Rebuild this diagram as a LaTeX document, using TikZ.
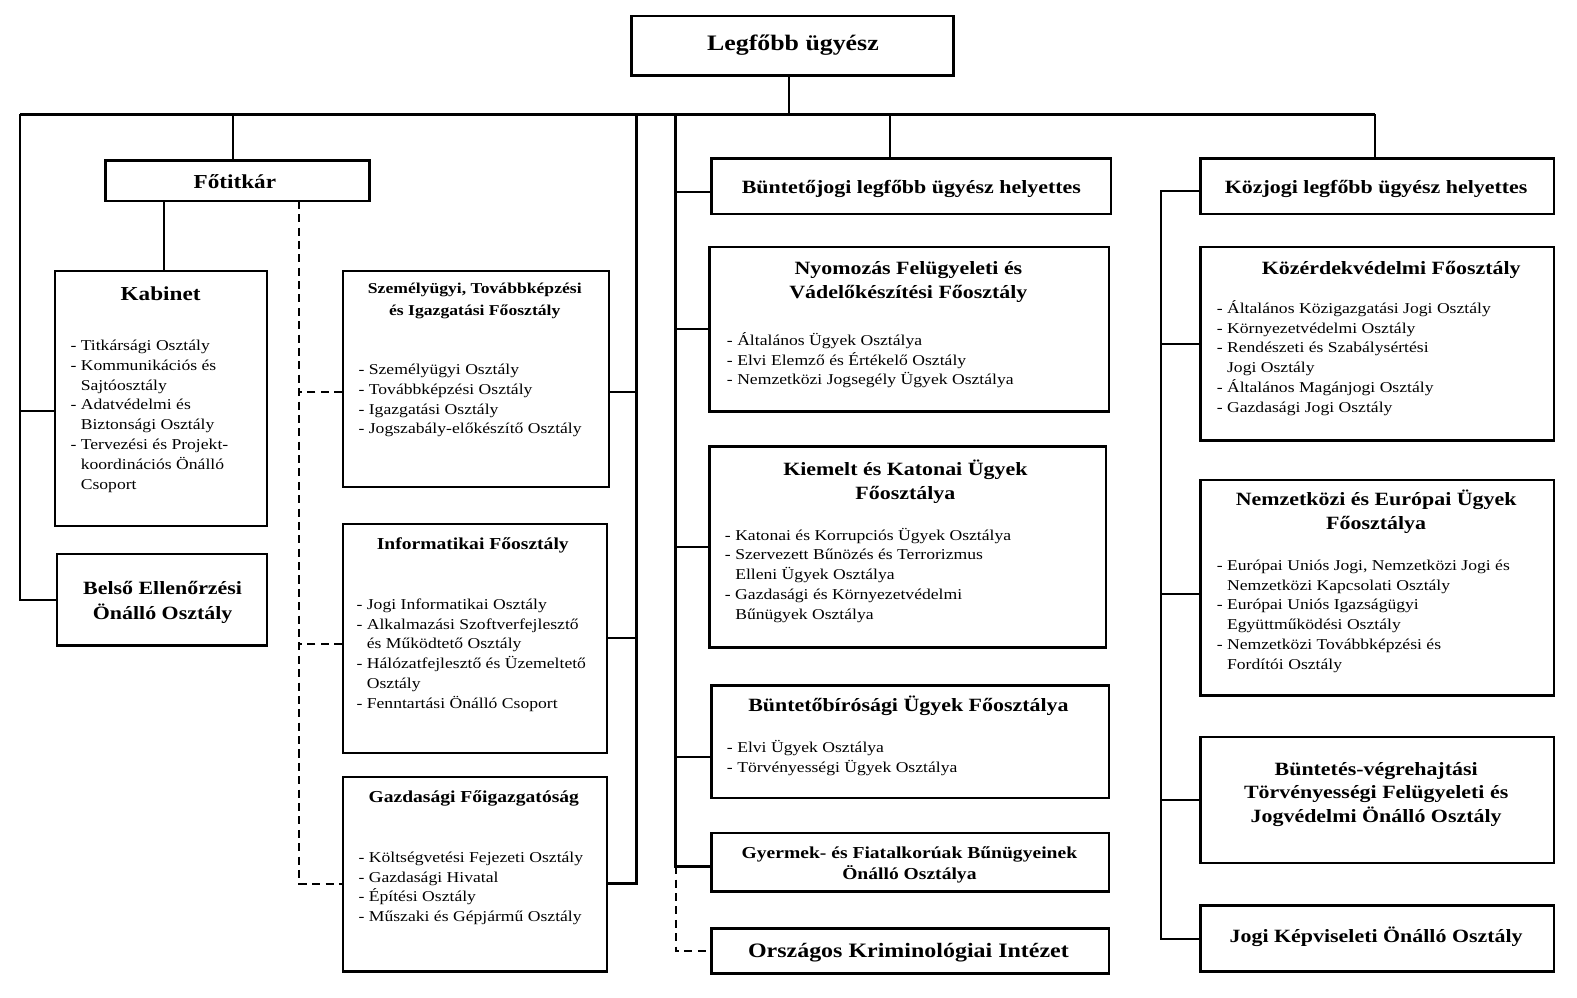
\documentclass[tikz,border=0pt]{standalone}
\usepackage{fontspec}
\setmainfont{Liberation Serif}[FakeStretch=1.17]
\usetikzlibrary{fit}
\begin{document}
\begin{tikzpicture}[x=0.75pt,y=-0.75pt,
  box/.style={draw, line width=1.8pt, inner sep=0pt},
  conn/.style={line width=1.5pt},
  bus/.style={line width=2.2pt},
  dconn/.style={line width=1.5pt, dash pattern=on 6pt off 4pt},
  lst/.style={anchor=north west, inner sep=0pt, align=left, font=\fontsize{11.25}{14.8}\selectfont},
  ttl/.style={anchor=north, inner sep=0pt, align=center, font=\bfseries\fontsize{14}{18}\selectfont},
  ttlone/.style={anchor=base, inner sep=0pt, font=\bfseries\fontsize{14}{18}\selectfont},
]
\useasboundingbox[fill=white] (0,0) rectangle (1571.1,993.3);
\newcommand{\ind}{\hphantom{- }}
% ---------- boxes ----------
\node[box, line width=2pt, fit={(629,16) (950,75)}] (top) {};
\node[box, fit={(105,160) (368,200)}] (fot) {};
\node[box, fit={(55,270) (266,524)}] (kab) {};
\node[box, fit={(57,552) (266,643)}] (bel) {};
\node[box, fit={(342,270) (607,485)}] (szem) {};
\node[box, fit={(342,522) (605,750)}] (inf) {};
\node[box, fit={(342,774) (605,968)}] (gazd) {};
\node[box, fit={(709,158) (1107,213)}] (bj) {};
\node[box, fit={(707,246) (1105,410)}] (nyom) {};
\node[box, fit={(707,445) (1102,645)}] (kiem) {};
\node[box, fit={(709,683) (1105,795)}] (bb) {};
\node[box, fit={(709,830) (1105,888)}] (gyer) {};
\node[box, fit={(709,925) (1105,970)}] (orsz) {};
\node[box, fit={(1196,158) (1548,213)}] (kj) {};
\node[box, fit={(1196,246) (1548,439)}] (kozerd) {};
\node[box, fit={(1196,478) (1548,693)}] (nemz) {};
\node[box, fit={(1196,734) (1548,860)}] (bv) {};
\node[box, fit={(1196,902) (1548,968)}] (jogi) {};
% ---------- titles ----------
\node[ttlone, font=\bfseries\fontsize{16.5}{20}\selectfont] (top-t) at (790,50) {Legfőbb ügyész};
\node[ttlone, font=\bfseries\fontsize{14.8}{18}\selectfont] (fot-t) at (234,188) {Főtitkár};
\node[ttlone, font=\bfseries\fontsize{14.8}{18}\selectfont] (kab-t) at (160,299) {Kabinet};
\node[ttl, font=\bfseries\fontsize{14}{18.75}\selectfont] (bel-t) at (162,574.5) {\strut Belső Ellenőrzési\\Önálló Osztály};
\node[ttl, font=\bfseries\fontsize{11.25}{16.5}\selectfont] (szem-t) at (473,276.6) {\strut Személyügyi, Továbbképzési\\és Igazgatási Főosztály};
\node[ttlone, font=\bfseries\fontsize{12.5}{16}\selectfont] (inf-t) at (471,547) {Informatikai Főosztály};
\node[ttlone, font=\bfseries\fontsize{12.5}{16}\selectfont] (gazd-t) at (472,799) {Gazdasági Főigazgatóság};
\node[ttlone] (bj-t) at (908,193) {Büntetőjogi legfőbb ügyész helyettes};
\node[ttl] (nyom-t) at (905,256.2) {\strut Nyomozás Felügyeleti és\\Vádelőkészítési Főosztály};
\node[ttl] (kiem-t) at (902,456.2) {\strut Kiemelt és Katonai Ügyek\\Főosztálya};
\node[ttlone] (bb-t) at (905,709) {Büntetőbírósági Ügyek Főosztálya};
\node[ttl, font=\bfseries\fontsize{12.5}{15.75}\selectfont] (gyer-t) at (906,840.3) {\strut Gyermek- és Fiatalkorúak Bűnügyeinek\\Önálló Osztálya};
\node[ttlone, font=\bfseries\fontsize{15.3}{18}\selectfont] (orsz-t) at (905,954) {Országos Kriminológiai Intézet};
\node[ttlone] (kj-t) at (1371,193) {Közjogi legfőbb ügyész helyettes};
\node[ttlone] (kozerd-t) at (1386,273) {Közérdekvédelmi Főosztály};
\node[ttl] (nemz-t) at (1371,486.2) {\strut Nemzetközi és Európai Ügyek\\Főosztálya};
\node[ttl, font=\bfseries\fontsize{14}{17.6}\selectfont] (bv-t) at (1371,755.5) {\strut Büntetés-végrehajtási\\Törvényességi Felügyeleti és\\Jogvédelmi Önálló Osztály};
\node[ttlone] (jogi-t) at (1371,939) {Jogi Képviseleti Önálló Osztály};
% ---------- lists ----------
\node[lst] (kab-l) at (70,335) {\strut- Titkársági Osztály\\- Kommunikációs és\\\ind Sajtóosztály\\- Adatvédelmi és\\\ind Biztonsági Osztály\\- Tervezési és Projekt-\\\ind koordinációs Önálló\\\ind Csoport};
\node[lst] (szem-l) at (357,359) {\strut- Személyügyi Osztály\\- Továbbképzési Osztály\\- Igazgatási Osztály\\- Jogszabály-előkészítő Osztály};
\node[lst] (inf-l) at (355,593) {\strut- Jogi Informatikai Osztály\\- Alkalmazási Szoftverfejlesztő\\\ind és Működtető Osztály\\- Hálózatfejlesztő és Üzemeltető\\\ind Osztály\\- Fenntartási Önálló Csoport};
\node[lst] (gazd-l) at (357,845) {\strut- Költségvetési Fejezeti Osztály\\- Gazdasági Hivatal\\- Építési Osztály\\- Műszaki és Gépjármű Osztály};
\node[lst] (nyom-l) at (724,330) {\strut- Általános Ügyek Osztálya\\- Elvi Elemző és Értékelő Osztály\\- Nemzetközi Jogsegély Ügyek Osztálya};
\node[lst] (kiem-l) at (722,524) {\strut- Katonai és Korrupciós Ügyek Osztálya\\- Szervezett Bűnözés és Terrorizmus\\\ind Elleni Ügyek Osztálya\\- Gazdasági és Környezetvédelmi\\\ind Bűnügyek Osztálya};
\node[lst] (bb-l) at (724,736) {\strut- Elvi Ügyek Osztálya\\- Törvényességi Ügyek Osztálya};
\node[lst] (kozerd-l) at (1212,298) {\strut- Általános Közigazgatási Jogi Osztály\\- Környezetvédelmi Osztály\\- Rendészeti és Szabálysértési\\\ind Jogi Osztály\\- Általános Magánjogi Osztály\\- Gazdasági Jogi Osztály};
\node[lst] (nemz-l) at (1212,554) {\strut- Európai Uniós Jogi, Nemzetközi Jogi és\\\ind Nemzetközi Kapcsolati Osztály\\- Európai Uniós Igazságügyi\\\ind Együttműködési Osztály\\- Nemzetközi Továbbképzési és\\\ind Fordítói Osztály};
% ---------- connectors ----------
\coordinate (busL) at (20,114);
\coordinate (busR) at (1370,114);
\coordinate (c232) at (232,114);
\coordinate (c634) at (634,114);
\coordinate (c673) at (673,114);
\coordinate (c887) at (887,114);
\coordinate (dtop) at (298,200);
\coordinate (c1157) at (1157,190);
\draw[conn] (top.south -| 786,0) -- (786,114);
\draw[bus] (busL) -- (busR);
\draw[conn] (busL) |- (bel.west);
\draw[conn] ([yshift=-9]kab.west) -- ([yshift=-9]kab.west -| busL);
\draw[conn] (c232) -- (c232 |- fot.north);
\draw[conn] (kab.north -| 163,0) -- (163,200);
\draw[bus] (c634) |- ([yshift=-7]gazd.east);
\draw[conn] ([yshift=-10]szem.east) -- ([yshift=-10]szem.east -| c634);
\draw[conn] (inf.east) -- (inf.east -| c634);
\draw[dconn] (dtop) |- ([yshift=-7]gazd.west);
\draw[dconn] ([yshift=-10]szem.west) -- ([yshift=-10]szem.west -| dtop);
\draw[dconn] ([yshift=-4]inf.west) -- ([yshift=-4]inf.west -| dtop);
\draw[bus] (c673) |- ([yshift=-3]gyer.west);
\draw[dconn] ([yshift=-3]gyer.west -| c673) |- (orsz.west);
\draw[conn] ([yshift=-4]bj.west) -- ([yshift=-4]bj.west -| c673);
\draw[conn] (nyom.west) -- (nyom.west -| c673);
\draw[conn] (kiem.west) -- (kiem.west -| c673);
\draw[conn] ([yshift=-11]bb.west) -- ([yshift=-11]bb.west -| c673);
\draw[conn] (c887) -- (c887 |- bj.north);
\draw[conn] (busR) -- (busR |- kj.north);
\draw[conn] (c1157 -| kj.west) -- (c1157) |- (jogi.west);
\draw[conn] (kozerd.west) -- (kozerd.west -| c1157);
\draw[conn] ([yshift=-5]nemz.west) -- ([yshift=-5]nemz.west -| c1157);
\draw[conn] (bv.west) -- (bv.west -| c1157);
\end{tikzpicture}
\end{document}
